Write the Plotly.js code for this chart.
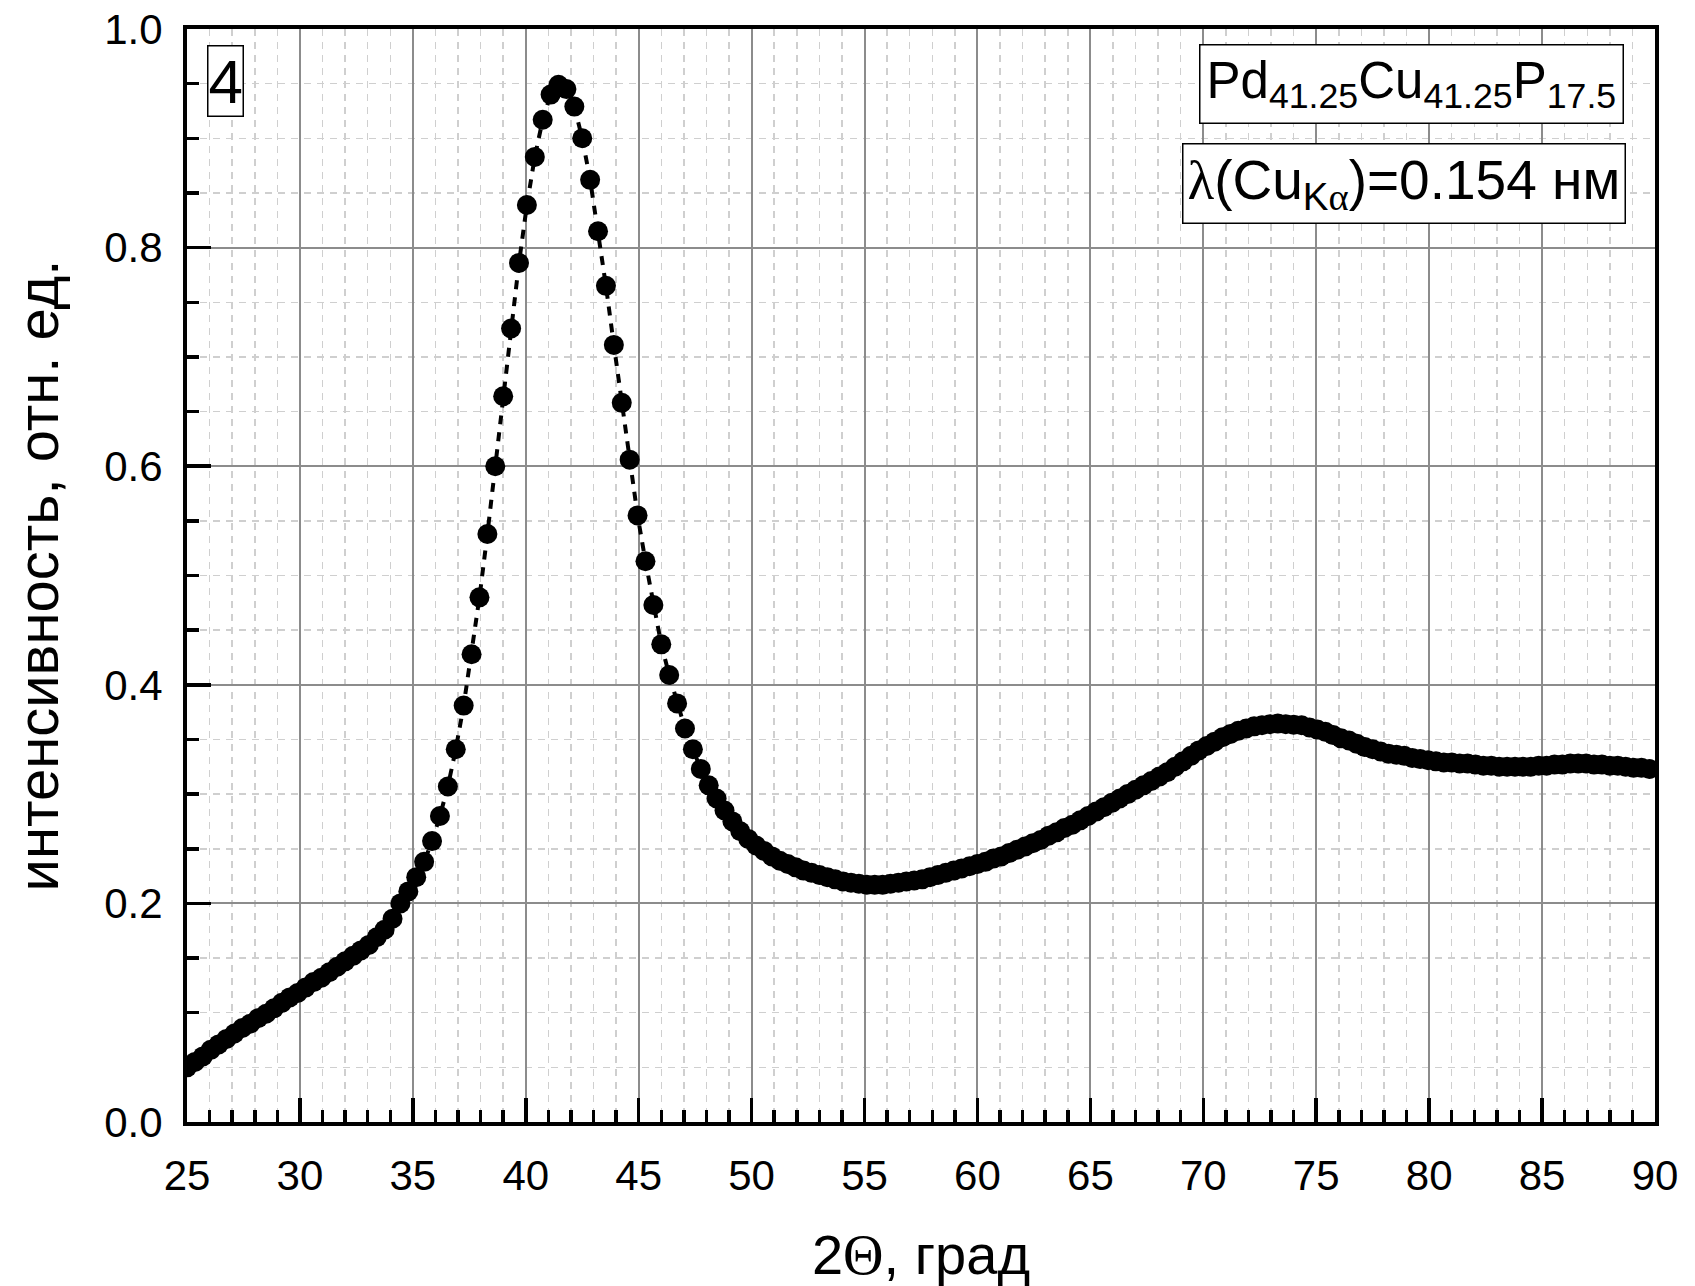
<!DOCTYPE html>
<html>
<head>
<meta charset="utf-8">
<script src="https://cdn.plot.ly/plotly-3.0.1.min.js"></script>
<style>
html,body{margin:0;padding:0;background:#fff;}
#chart{width:1695px;height:1286px;}
</style>
</head>
<body>
<div id="chart"></div>
<script>
// 2Theta, degrees
const twoTheta = [25, 25.35, 25.7, 26.05, 26.4, 26.75, 27.1, 27.45, 27.8, 28.15, 28.5, 28.85, 29.2, 29.55, 29.9, 30.25, 30.6, 30.95, 31.3, 31.65, 32, 32.35, 32.7, 33.05, 33.4, 33.75, 34.1, 34.45, 34.8, 35.15, 35.5, 35.85, 36.2, 36.55, 36.9, 37.25, 37.6, 37.95, 38.3, 38.65, 39, 39.35, 39.7, 40.05, 40.4, 40.75, 41.1, 41.45, 41.8, 42.15, 42.5, 42.85, 43.2, 43.55, 43.9, 44.25, 44.6, 44.95, 45.3, 45.65, 46, 46.35, 46.7, 47.05, 47.4, 47.75, 48.1, 48.45, 48.8, 49.15, 49.5, 49.85, 50.2, 50.55, 50.9, 51.25, 51.6, 51.95, 52.3, 52.65, 53, 53.35, 53.7, 54.05, 54.4, 54.75, 55.1, 55.45, 55.8, 56.15, 56.5, 56.85, 57.2, 57.55, 57.9, 58.25, 58.6, 58.95, 59.3, 59.65, 60, 60.35, 60.7, 61.05, 61.4, 61.75, 62.1, 62.45, 62.8, 63.15, 63.5, 63.85, 64.2, 64.55, 64.9, 65.25, 65.6, 65.95, 66.3, 66.65, 67, 67.35, 67.7, 68.05, 68.4, 68.75, 69.1, 69.45, 69.8, 70.15, 70.5, 70.85, 71.2, 71.55, 71.9, 72.25, 72.6, 72.95, 73.3, 73.65, 74, 74.35, 74.7, 75.05, 75.4, 75.75, 76.1, 76.45, 76.8, 77.15, 77.5, 77.85, 78.2, 78.55, 78.9, 79.25, 79.6, 79.95, 80.3, 80.65, 81, 81.35, 81.7, 82.05, 82.4, 82.75, 83.1, 83.45, 83.8, 84.15, 84.5, 84.85, 85.2, 85.55, 85.9, 86.25, 86.6, 86.95, 87.3, 87.65, 88, 88.35, 88.7, 89.05, 89.4, 89.75];

// relative intensity
const intensity = [0.050,0.055,0.060,0.066,0.071,0.076,0.081,0.086,0.090,0.095,0.099,0.104,0.109,0.114,0.118,0.123,0.128,0.132,0.137,0.142,0.147,0.152,0.157,0.162,0.169,0.176,0.186,0.200,0.211,
0.224,0.238,0.257,0.280,0.307,0.341,0.381,0.428,0.480,0.538,
0.600,0.664,0.726,0.786,0.839,0.883,0.917,0.940,0.949,0.945,
0.929,0.900,0.862,0.815,0.765,0.711,0.658,0.606,0.555,0.513,
0.473,0.437,0.409,0.383,0.360,0.341,0.323,0.308,0.296,0.285,
0.275,0.266,0.259,0.253,0.248,0.243,0.239,0.236,0.233,0.230,
0.228,0.226,0.224,0.222,0.220,0.219,0.218,0.217,0.217,0.217,
0.218,0.219,0.220,0.221,0.222,0.224,0.226,0.228,0.230,0.232,
0.234,0.236,0.238,0.241,0.243,0.246,0.249,0.252,0.255,0.258,
0.262,0.265,0.269,0.272,0.276,0.280,0.284,0.288,0.292,0.296,
0.300,0.304,0.308,0.312,0.316,0.320,0.325,0.330,0.335,0.340,
0.344,0.348,0.352,0.355,0.358,0.360,0.362,0.363,0.364,0.3645,
0.364,0.3635,0.363,0.361,0.359,0.357,0.354,0.351,0.349,0.346,
0.343,0.341,0.339,0.337,0.336,0.335,0.333,0.332,0.331,0.330,
0.329,0.329,0.328,0.328,0.327,0.326,0.326,0.325,0.325,0.325,
0.325,0.325,0.326,0.326,0.327,0.327,0.328,0.328,0.328,0.327,
0.327,0.326,0.326,0.325,0.324,0.324,0.323];

const xTickVals = [25,30,35,40,45,50,55,60,65,70,75,80,85,90];
const xTickText = ['25','30','35','40','45','50','55','60','65','70','75','80','85','90'];
const yTickVals = [0,0.2,0.4,0.6,0.8,1.0];
const yTickText = ['0.0','0.2','0.4','0.6','0.8','1.0'];

const panelLabel = '4';
const compositionLabel = 'Pd<sub>41.25</sub>Cu<sub>41.25</sub>P<sub>17.5</sub>';
const wavelengthLabel = '<span style="font-family:\'Liberation Serif\'">λ</span>(Cu<sub>K<span style="font-family:\'Liberation Serif\'">α</span></sub>)=0.154 нм';
const xTitle = '2<span style="font-family:\'Liberation Serif\'">Θ</span>, град';
const yTitle = 'интенсивность, отн. ед.';

const FONT = 'Liberation Sans, Arial, sans-serif';

const trace = {
  x: twoTheta,
  y: intensity,
  type: 'scatter',
  mode: 'lines+markers',
  line: {color: '#000', width: 4, dash: '9px,8px'},
  marker: {color: '#000', size: 20, symbol: 'circle', line: {width: 0}},
  showlegend: false,
  hoverinfo: 'x+y'
};

const axisCommon = {
  showline: true, linecolor: '#000', linewidth: 4, mirror: true,
  ticks: 'inside', tickcolor: '#000', tickwidth: 3.5, ticklen: 24,
  showgrid: true, gridcolor: '#8c8c8c', gridwidth: 2,
  zeroline: false,
  tickfont: {family: FONT, size: 42, color: '#000'}
};

const layout = {
  width: 1695, height: 1286,
  paper_bgcolor: '#fff', plot_bgcolor: '#fff',
  margin: {l: 187, r: 40, t: 29, b: 164},
  font: {family: FONT, color: '#000'},
  xaxis: Object.assign({}, axisCommon, {
    range: [25, 90],
    tickmode: 'array', tickvals: xTickVals, ticktext: xTickText,
    ticklabelstandoff: 14,
    minor: {dtick: 1, tick0: 25, ticks: 'inside', ticklen: 12, tickwidth: 3.5, tickcolor: '#000',
            showgrid: true, gridcolor: '#cfcfcf', gridwidth: 1.5, griddash: '7px,6px'},
    title: {text: xTitle, font: {family: FONT, size: 56, color: '#000'}, standoff: 38}
  }),
  yaxis: Object.assign({}, axisCommon, {
    range: [0, 1],
    tickmode: 'array', tickvals: yTickVals, ticktext: yTickText,
    ticklabelstandoff: 12,
    minor: {dtick: 0.05, tick0: 0, ticks: 'inside', ticklen: 12, tickwidth: 3.5, tickcolor: '#000',
            showgrid: true, gridcolor: '#cfcfcf', gridwidth: 1.5, griddash: '7px,6px'},
    title: {text: yTitle, font: {family: FONT, size: 58, color: '#000'}, standoff: 28}
  }),
  annotations: [
    {text: panelLabel, xref: 'paper', yref: 'paper', x: 0.0262, y: 0.952,
     xanchor: 'center', yanchor: 'middle', showarrow: false,
     font: {family: FONT, size: 62, color: '#000'},
     bordercolor: '#000', borderwidth: 1.5, borderpad: 0, bgcolor: '#fff'},
    {text: compositionLabel, xref: 'paper', yref: 'paper', x: 0.834, y: 0.950,
     xanchor: 'center', yanchor: 'middle', showarrow: false,
     font: {family: FONT, size: 51, color: '#000'},
     bordercolor: '#000', borderwidth: 1.5, borderpad: 6, bgcolor: '#fff'},
    {text: wavelengthLabel, xref: 'paper', yref: 'paper', x: 0.829, y: 0.859,
     xanchor: 'center', yanchor: 'middle', showarrow: false,
     font: {family: FONT, size: 55, color: '#000'},
     bordercolor: '#000', borderwidth: 1.5, borderpad: 4, bgcolor: '#fff'}
  ]
};

Plotly.newPlot('chart', [trace], layout, {displayModeBar: false, staticPlot: true});
</script>
</body>
</html>
